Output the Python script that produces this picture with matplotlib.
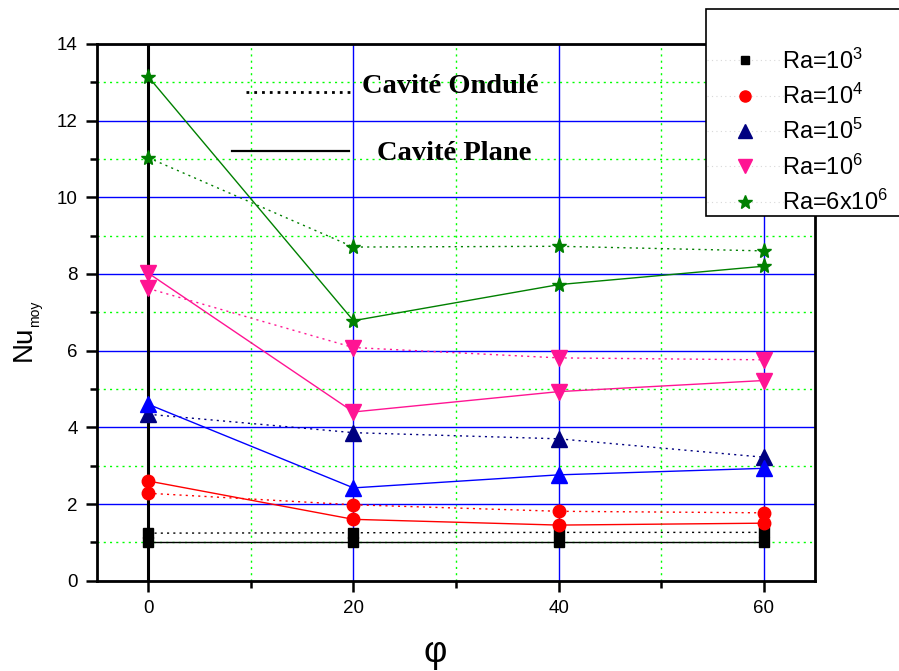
import matplotlib
matplotlib.use("Agg")
import matplotlib.pyplot as plt
from matplotlib.lines import Line2D
from matplotlib.ticker import MultipleLocator

plt.rcParams['font.family'] = ['Liberation Sans', 'DejaVu Sans']
plt.rcParams['mathtext.default'] = 'regular'

phi = [0, 20, 40, 60]
labels = ['Ra=10$^3$', 'Ra=10$^4$', 'Ra=10$^5$', 'Ra=10$^6$', 'Ra=6x10$^6$']
# Cavité Plane (solid)
plane = [
    [1.00, 1.00, 1.00, 1.00],
    [2.60, 1.60, 1.45, 1.50],
    [4.60, 2.42, 2.76, 2.93],
    [8.02, 4.40, 4.93, 5.22],
    [13.14, 6.78, 7.72, 8.20],
]
# Cavité Ondulé (dotted)
ondule = [
    [1.24, 1.25, 1.26, 1.26],
    [2.28, 1.98, 1.81, 1.77],
    [4.34, 3.86, 3.70, 3.22],
    [7.62, 6.08, 5.81, 5.76],
    [11.03, 8.70, 8.72, 8.60],
]
plane_colors = ['#000000', '#FF0000', '#0000FF', '#FF1493', '#008000']
ondule_colors = ['#000000', '#FF0000', '#000080', '#FF1493', '#008000']
legend_colors = ['#000000', '#FF0000', '#000080', '#FF1493', '#008000']
markers = ['s', 'o', '^', 'v', '*']
msizes = [7, 9, 11, 11, 11]

W, H = 899, 671
fig = plt.figure(figsize=(W / 100, H / 100), dpi=100)
ax = fig.add_axes([97 / W, 1 - 580.7 / H, (815 - 97) / W, (580.7 - 43.8) / H])

ax.set_xlim(-5, 65)
ax.set_ylim(0, 14)
ax.xaxis.set_major_locator(MultipleLocator(20))
ax.xaxis.set_minor_locator(MultipleLocator(10))
ax.yaxis.set_major_locator(MultipleLocator(2))
ax.yaxis.set_minor_locator(MultipleLocator(1))

ax.grid(which='major', color='#0000FF', lw=1, ls='-', zorder=0)
ax.grid(which='minor', color='#00FF00', lw=1, ls=(0, (1.5, 3)), zorder=0)
ax.set_axisbelow(True)
ax.axvline(0, color='black', lw=2.2, zorder=1)

for i in range(5):
    ax.plot(phi, ondule[i], color=ondule_colors[i], ls=(0, (1.5, 3)), lw=1,
            marker=markers[i], ms=msizes[i], mec=ondule_colors[i], zorder=3)
    ax.plot(phi, plane[i], color=plane_colors[i], ls='-', lw=1,
            marker=markers[i], ms=msizes[i], mec=plane_colors[i], zorder=3)

for s in ax.spines.values():
    s.set_linewidth(2)
ax.tick_params(which='major', direction='out', length=8, width=1.8,
               labelsize=13.5, pad=6)
ax.tick_params(which='minor', direction='out', length=5, width=1.8)
ax.set_xticks([0, 20, 40, 60])
ax.set_yticks([0, 2, 4, 6, 8, 10, 12, 14])

fig.text(435 / W, 1 - 652 / H, 'φ', fontsize=26, ha='center', va='center')
fig.text(37 / W, 1 - 361 / H, 'Nu', fontsize=20, rotation=90,
         ha='right', va='bottom')
fig.text(42 / W, 1 - 327 / H, 'moy', fontsize=10, rotation=90,
         ha='right', va='bottom')

# annotations
fig.text(362 / W, 1 - 93 / H, 'Cavité Ondulé', family='Liberation Serif',
         fontweight='bold', fontsize=20.5, ha='left', va='baseline')
fig.text(377 / W, 1 - 160 / H, 'Cavité Plane', family='Liberation Serif',
         fontweight='bold', fontsize=20.5, ha='left', va='baseline')
fig.add_artist(Line2D([246 / W, 350 / W], [1 - 92 / H, 1 - 92 / H],
                      transform=fig.transFigure, color='black', lw=2,
                      ls=(0, (1, 1.8))))
fig.add_artist(Line2D([232 / W, 349 / W], [1 - 151 / H, 1 - 151 / H],
                      transform=fig.transFigure, color='black', lw=1.6))

handles = [Line2D([], [], color='#d8d8d8', ls=(0, (1, 3)), lw=0.8,
                  marker=markers[i], ms=msizes[i] - 1,
                  mfc=legend_colors[i], mec=legend_colors[i])
           for i in range(5)]
leg = fig.legend(handles, labels, loc='upper left',
                 bbox_to_anchor=(706 / W, 1 - 9 / H - 0.3, 260 / W, 0.3),
                 mode='expand', fontsize=17,
                 frameon=True, fancybox=False, edgecolor='black',
                 framealpha=1, borderpad=0.05, labelspacing=0.43,
                 handlelength=3.2, handletextpad=-0.04, borderaxespad=0,
                 title=' ', title_fontsize=21.5)
leg.get_frame().set_linewidth(1.2)

fig.savefig('out.png', dpi=100)
